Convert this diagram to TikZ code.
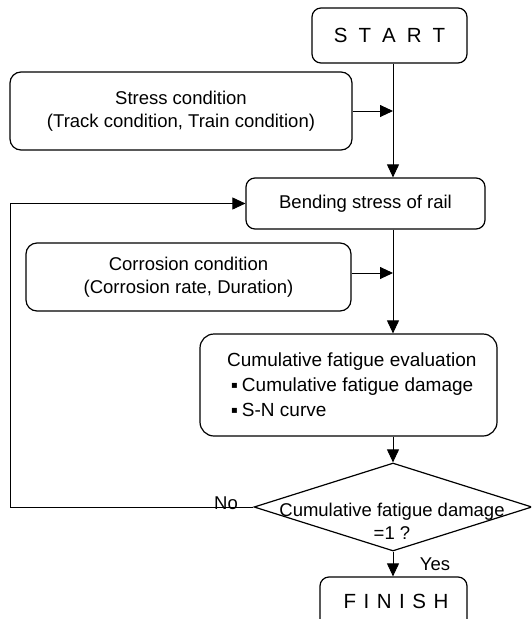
\documentclass[tikz,border=0pt]{standalone}
\usepackage{fontspec}
\setmainfont{Liberation Sans}
\newfontfamily\dejavu{DejaVu Sans}
\usetikzlibrary{arrows.meta,shapes.geometric}
\newcommand{\sqbul}{\raisebox{3.5pt}{\dejavu\fontsize{10}{10}\selectfont ▪}}
\tikzset{
  every node/.style={font=\fontsize{18.5}{23}\selectfont},
  rbox/.style={draw, line width=1.2pt, rounded corners=9pt, inner sep=0pt, align=center},
  conn/.style={line width=0.9pt, -{Triangle[length=13pt,width=12pt]}},
  plain/.style={line width=0.9pt}
}
\begin{document}
\begin{tikzpicture}[x=1pt,y=-1pt]
\clip (0,0) rectangle (531,619);
\fill[white] (0,0) rectangle (531,619);
\coordinate (spine) at (393,0);
\coordinate (loopx) at (10,0);
% boxes
\node[rbox, minimum width=155pt, minimum height=55pt] (start) at (389.5,35.5)
  {\fontsize{20.5}{24}\selectfont\spaceskip=11pt S T A R T};
\node[rbox, rounded corners=11pt, minimum width=342pt, minimum height=78pt] (stress) at (181,111)
  {Stress condition\\(Track condition, Train condition)};
\node[rbox, minimum width=239pt, minimum height=51pt] (bend) at (365.5,203.5)
  {Bending stress of rail};
\node[rbox, rounded corners=11pt, minimum width=325pt, minimum height=68pt] (corr) at (188.5,277)
  {Corrosion condition\\(Corrosion rate, Duration)};
\node[rbox, rounded corners=14pt, minimum width=297pt, minimum height=102pt] (cum) at (348.5,385) {};
\node[anchor=north west, inner sep=0pt, align=left, font=\fontsize{19}{25}\selectfont] (cumtxt) at (227,353)
  {Cumulative fatigue evaluation\\
   \hspace*{4pt}\sqbul\hspace{4pt}Cumulative fatigue damage\\
   \hspace*{4pt}\sqbul\hspace{4pt}S-N curve};
\node[diamond, draw, line width=1.2pt, inner sep=0pt, minimum width=278pt, minimum height=88pt] (dec) at (393,507) {};
\node[align=center, inner sep=0pt] (dectxt) at (392,521)
  {Cumulative fatigue damage\\=1 ?};
\node[rbox, minimum width=147pt, minimum height=55pt] (finish) at (393.5,604.5) {};
\node[anchor=base, inner sep=0pt] (fintxt) at (396,608)
  {\fontsize{20.5}{24}\selectfont\spaceskip=7.5pt F I N I S H};
% connectors
\draw[conn] (start.south -| spine) -- (bend.north -| spine);
\draw[conn] (stress.east) -- (stress.east -| spine);
\draw[conn] (bend.south -| spine) -- (cum.north -| spine);
\draw[conn] ([yshift=4pt]corr.east) -- ([yshift=4pt]corr.east -| spine);
\draw[conn] (cum.south -| spine) -- (dec.north);
\draw[conn] (dec.south) -- (finish.north -| dec.south);
\draw[conn] (dec.west) -- (dec.west -| loopx) |- (bend.west);
% labels
\node[anchor=base, inner sep=0pt] (nolbl) at (226,509) {No};
\node[anchor=base, inner sep=0pt] (yeslbl) at (435,570) {Yes};
\end{tikzpicture}
\end{document}
